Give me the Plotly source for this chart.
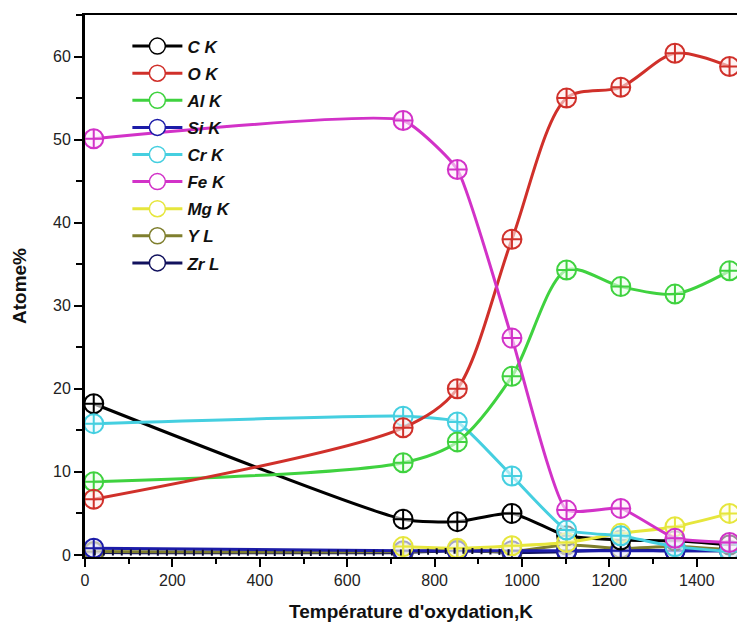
import plotly.graph_objects as go

# Oxidation temperatures (K)
temperature = [20, 728, 852, 977, 1102, 1226, 1350, 1475]

# Atomic percentages per element
c_k = [18.2, 4.3, 4.0, 5.0, 2.3, 1.8, 1.7, 1.2]
o_k = [6.7, 15.3, 20.0, 38.0, 55.0, 56.3, 60.4, 58.8]
al_k = [8.8, 11.1, 13.6, 21.5, 34.3, 32.3, 31.4, 34.2]
si_k = [0.8, 0.5, 0.5, 0.5, 0.5, 0.5, 0.5, 0.5]
cr_k = [15.8, 16.7, 16.0, 9.5, 3.0, 2.3, 1.0, 0.4]
fe_k = [50.1, 52.3, 46.4, 26.1, 5.4, 5.6, 2.0, 1.5]
mg_k = [None, 1.0, 0.8, 1.1, 1.5, 2.6, 3.4, 5.0]
y_l = [0.4, 0.4, 0.6, 0.4, 1.2, 0.8, 1.0, 0.6]
zr_l = [0.3, 0.3, 0.5, 0.3, 0.4, 0.6, 0.5, 0.5]

series = [
    ("C K", c_k, "#000000", "rgba(255,255,255,0.6)"),
    ("O K", o_k, "#d0302a", "rgba(255,235,235,0.6)"),
    ("Al K", al_k, "#3fd23f", "rgba(235,255,235,0.6)"),
    ("Si K", si_k, "#1c1ca8", "rgba(235,235,255,0.6)"),
    ("Cr K", cr_k, "#45cfe0", "rgba(235,252,255,0.6)"),
    ("Fe K", fe_k, "#d232c8", "rgba(255,235,252,0.6)"),
    ("Mg K", mg_k, "#e6e63c", "rgba(255,255,230,0.6)"),
    ("Y L", y_l, "#7f7f2e", "rgba(250,250,235,0.6)"),
    ("Zr L", zr_l, "#12125e", "rgba(235,235,250,0.6)"),
]

# Curve smoothing per element (lower keeps the spline from overshooting)
smooth = {"Fe K": 0.45, "Cr K": 0.45, "C K": 0.6}

fig = go.Figure()

# Data curves, drawn bottom-most first so the near-zero lines sit underneath
draw_order = ["Zr L", "Y L", "Si K", "C K", "Mg K", "Cr K", "Al K", "O K", "Fe K"]
lookup = {s[0]: s for s in series}
for name in draw_order:
    _, vals, col, fill = lookup[name]
    fig.add_trace(go.Scatter(
        x=temperature, y=vals, mode="lines+markers",
        line=dict(color=col, width=3, shape="spline", smoothing=smooth.get(name, 0.85)),
        marker=dict(symbol="circle-cross", size=19, color=fill,
                    line=dict(color=col, width=2)),
        showlegend=False, hoverinfo="x+y", name=name,
    ))

# Fine tick pattern riding on the Zr L baseline
fig.add_trace(go.Scatter(
    x=temperature[:4], y=zr_l[:4], mode="lines",
    line=dict(color="#0a0a30", width=6, dash="2px,7px", shape="spline"),
    showlegend=False, hoverinfo="skip",
))

# Legend entries: line - open circle - line
for i, (name, _, col, _) in enumerate(series):
    fig.add_trace(go.Scatter(
        x=[None], y=[None], mode="lines+markers", name=f"<b><i>{name}</i></b>",
        line=dict(color=col, width=3),
        marker=dict(symbol="circle", size=16, color="white",
                    line=dict(color=col, width=1.5)),
        legendgroup=f"g{i}",
    ))

axis_font = dict(family="Liberation Sans, Arial, sans-serif", size=16, color="#222222")

fig.update_layout(
    width=737, height=634,
    margin=dict(l=85, r=0, t=15, b=77),
    paper_bgcolor="white", plot_bgcolor="white",
    font=dict(family="Liberation Sans, Arial, sans-serif", color="#111111"),
    legend=dict(
        x=0.065, y=0.975, xanchor="left", yanchor="top",
        bgcolor="rgba(0,0,0,0)", font=dict(size=17, color="#111111"),
        itemwidth=50, traceorder="grouped", tracegroupgap=2,
    ),
    xaxis=dict(
        range=[0, 1492], tickmode="linear", tick0=0, dtick=200,
        ticks="outside", ticklen=8, tickwidth=2, tickcolor="black",
        minor=dict(ticks="outside", ticklen=5, tickwidth=2, tickcolor="black", dtick=100),
        showline=True, linecolor="black", linewidth=2, mirror=True,
        showgrid=False, zeroline=False, tickfont=axis_font,
        title=dict(text="<b>Température d'oxydation,K</b>", standoff=16,
                   font=dict(size=19, color="#111111")),
    ),
    yaxis=dict(
        range=[-0.25, 65], tickmode="linear", tick0=0, dtick=10,
        ticks="outside", ticklen=8, tickwidth=2, tickcolor="black",
        minor=dict(ticks="outside", ticklen=6, tickwidth=2, tickcolor="black", dtick=5),
        showline=True, linecolor="black", linewidth=3, mirror=False,
        showgrid=False, zeroline=False, tickfont=axis_font,
        title=dict(text="<b>Atome%</b>", standoff=22,
                   font=dict(size=19, color="#111111")),
    ),
)

fig.write_html("out.html")
